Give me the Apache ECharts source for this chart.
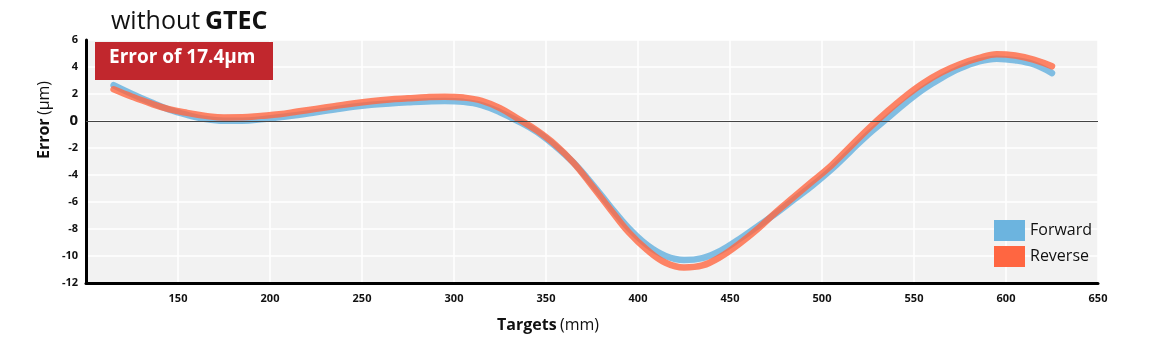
<!DOCTYPE html>
<html>
<head>
<meta charset="utf-8">
<script src="https://cdn.jsdelivr.net/npm/echarts@6/dist/echarts.min.js"></script>
<style>
  html, body { margin: 0; padding: 0; background: #fff; }
  #chart { width: 1170px; height: 351px; }
</style>
</head>
<body>
<div id="chart"></div>
<script>
// targets (mm), read every 10 mm along the curves
var targets = [115, 125, 135, 145, 155, 165, 175, 185, 195, 205, 215, 225, 235, 245, 255, 265, 275, 285, 295, 305, 315, 325, 335, 345, 355, 365, 375, 385, 395, 405, 415, 425, 435, 445, 455, 465, 475, 485, 495, 505, 515, 525, 535, 545, 555, 565, 575, 585, 595, 605, 615, 625];
// error (um)
var forward = [2.65, 2.0, 1.4, 0.85, 0.45, 0.15, 0.02, 0.02, 0.12, 0.28, 0.45, 0.65, 0.85, 1.05, 1.2, 1.3, 1.38, 1.45, 1.48, 1.42, 1.18, 0.65, -0.02, -0.8, -1.85, -3.1, -4.65, -6.35, -7.95, -9.2, -10.0, -10.3, -10.15, -9.6, -8.75, -7.8, -6.85, -5.8, -4.75, -3.6, -2.3, -1.0, 0.15, 1.3, 2.35, 3.2, 3.9, 4.4, 4.62, 4.5, 4.2, 3.55];
var reverse = [2.35, 1.8, 1.3, 0.88, 0.6, 0.38, 0.26, 0.27, 0.38, 0.5, 0.7, 0.9, 1.1, 1.3, 1.47, 1.6, 1.68, 1.76, 1.8, 1.74, 1.5, 0.95, 0.15, -0.7, -1.75, -3.1, -4.8, -6.55, -8.25, -9.55, -10.5, -10.85, -10.7, -10.05, -9.1, -8.0, -6.75, -5.6, -4.45, -3.3, -1.95, -0.6, 0.65, 1.8, 2.8, 3.6, 4.2, 4.65, 4.95, 4.85, 4.55, 4.05];

var fontFam = '"Open Sans", sans-serif';

function pairs(xs, ys) {
    var out = [];
    for (var i = 0; i < xs.length; i++) {
        out.push([xs[i], ys[i]]);
    }
    return out;
}

var chart = echarts.init(document.getElementById('chart'));

var option = {
    backgroundColor: '#fff',
    animation: false,
    textStyle: { fontFamily: fontFam },
    title: {
        left: 106,
        top: 4,
        text: '{a|without} {b|GTEC}',
        textStyle: {
            rich: {
                a: { fontSize: 25, fontWeight: 'normal', color: '#111', fontFamily: fontFam },
                b: { fontSize: 25, fontWeight: 'bold', color: '#111', fontFamily: fontFam }
            }
        }
    },
    legend: {
        left: 989,
        top: 215,
        orient: 'vertical',
        itemWidth: 31,
        itemHeight: 21,
        itemGap: 5,
        icon: 'rect',
        textStyle: { fontSize: 16, color: '#111', fontFamily: fontFam },
        data: [
            { name: 'Forward', itemStyle: { color: '#6cb4df', opacity: 1 } },
            { name: 'Reverse', itemStyle: { color: '#ff6641', opacity: 1 } }
        ]
    },
    grid: {
        left: 86,
        right: 72,
        top: 40,
        bottom: 68,
        show: true,
        backgroundColor: '#f2f2f2',
        borderWidth: 0
    },
    xAxis: {
        type: 'value',
        min: 100,
        max: 650,
        interval: 50,
        axisLine: { show: true, onZero: false, lineStyle: { color: '#000', width: 3 } },
        axisTick: { show: false },
        axisLabel: {
            showMinLabel: false,
            margin: 10,
            fontSize: 11,
            fontWeight: 'bold',
            color: '#111',
            fontFamily: fontFam
        },
        splitLine: { show: true, lineStyle: { color: '#fff', width: 1.5 } }
    },
    yAxis: {
        type: 'value',
        min: -12,
        max: 6,
        interval: 2,
        axisLine: { show: true, onZero: false, lineStyle: { color: '#000', width: 3 } },
        axisTick: { show: false },
        axisLabel: {
            margin: 8,
            color: '#111',
            fontFamily: fontFam,
            formatter: function (v) {
                return v === 0 ? '{z|0}' : '{n|' + v + '}';
            },
            rich: {
                z: { fontSize: 15, fontWeight: 'bold', color: '#111', fontFamily: fontFam },
                n: { fontSize: 11, fontWeight: 'bold', color: '#111', fontFamily: fontFam }
            }
        },
        splitLine: { show: true, lineStyle: { color: '#fff', width: 1.5 } }
    },
    graphic: [
        {
            type: 'rect',
            left: 95,
            top: 42,
            shape: { width: 178, height: 38 },
            style: { fill: '#c1272d' },
            z: 100
        },
        {
            type: 'text',
            left: 109,
            top: 48,
            style: {
                text: 'Error of 17.4μm',
                fill: '#fff',
                font: 'bold 19px ' + fontFam
            },
            z: 101
        },
        {
            type: 'text',
            x: 44,
            y: 120,
            rotation: Math.PI / 2,
            style: {
                text: '{b|Error} {n|(µm)}',
                align: 'center',
                verticalAlign: 'middle',
                rich: {
                    b: { fontSize: 16, fontWeight: 'bold', fill: '#111', fontFamily: fontFam },
                    n: { fontSize: 16, fontWeight: 'normal', fill: '#111', fontFamily: fontFam }
                }
            }
        },
        {
            type: 'text',
            x: 548,
            y: 325,
            style: {
                text: '{b|Targets} {n|(mm)}',
                align: 'center',
                verticalAlign: 'middle',
                rich: {
                    b: { fontSize: 16, fontWeight: 'bold', fill: '#111', fontFamily: fontFam },
                    n: { fontSize: 16, fontWeight: 'normal', fill: '#111', fontFamily: fontFam }
                }
            }
        }
    ],
    series: [
        {
            name: 'Forward',
            type: 'line',
            smooth: 0.4,
            showSymbol: false,
            data: pairs(targets, forward),
            lineStyle: { color: '#6cb4df', width: 6.5, opacity: 0.85, cap: 'round' },
            itemStyle: { color: '#6cb4df' },
            markLine: {
                silent: true,
                symbol: 'none',
                label: { show: false },
                lineStyle: { color: '#444', width: 1.2, type: 'solid' },
                data: [{ yAxis: 0 }]
            },
            z: 2
        },
        {
            name: 'Reverse',
            type: 'line',
            smooth: 0.4,
            showSymbol: false,
            data: pairs(targets, reverse),
            lineStyle: { color: '#ff6641', width: 6.5, opacity: 0.8, cap: 'round' },
            itemStyle: { color: '#ff6641' },
            z: 3
        }
    ]
};

chart.setOption(option);
</script>
</body>
</html>
